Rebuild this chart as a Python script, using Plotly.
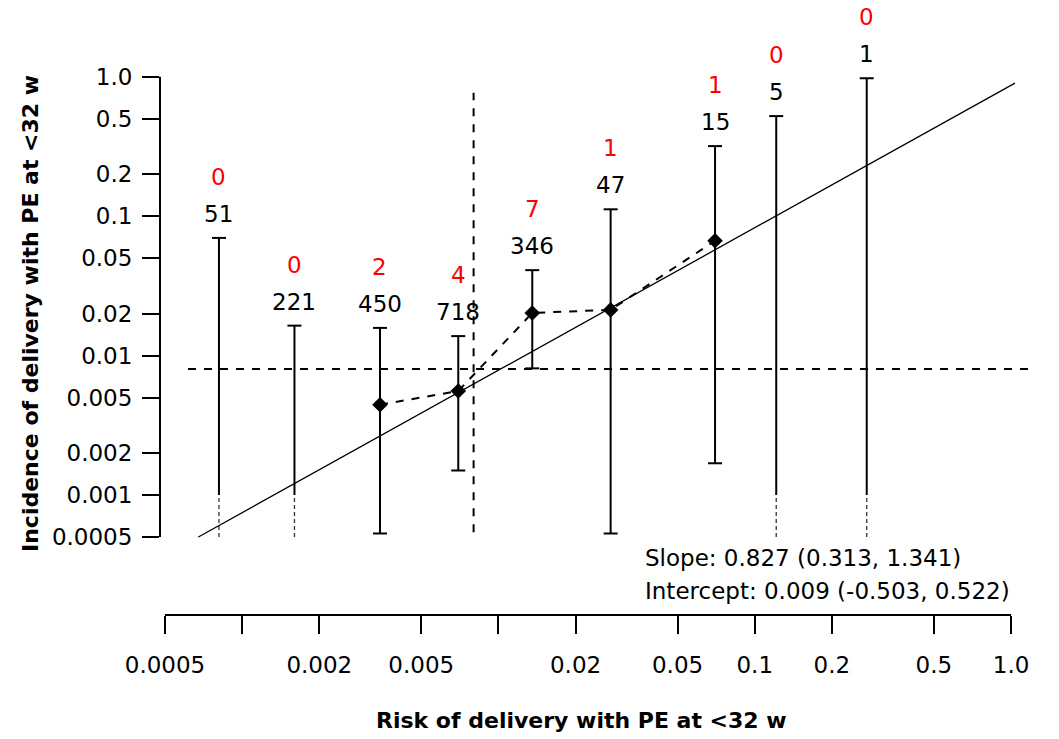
import math
import plotly.graph_objects as go

# ---------------- data ----------------
n_women = [51, 221, 450, 718, 346, 47, 15, 5, 1]
n_events = [0, 0, 2, 4, 7, 1, 1, 0, 0]
pred_risk = [0.000812, 0.0016, 0.00345, 0.00697, 0.01355, 0.0274, 0.0700, 0.1213, 0.2735]
ci_upper = [0.0698, 0.0164, 0.0158, 0.0138, 0.0410, 0.112, 0.318, 0.522, 0.975]
ci_lower = [0, 0, 0.00053, 0.0015, 0.0081, 0.00053, 0.00169, 0, 0]

overall_incidence = 0.008
ref_line_x = [0.000675, 1.036]
ref_line_y = [0.0005, 0.90]
hline_x = [0.000615, 1.19]
vline_y = [0.000542, 0.768]

tick_vals = [0.0005, 0.001, 0.002, 0.005, 0.01, 0.02, 0.05, 0.1, 0.2, 0.5, 1.0]
y_tick_text = ["0.0005", "0.001", "0.002", "0.005", "0.01", "0.02", "0.05", "0.1", "0.2", "0.5", "1.0"]
x_tick_text = ["0.0005", "", "0.002", "0.005", "", "0.02", "0.05", "0.1", "0.2", "0.5", "1.0"]

zero_floor = 0.001     # CIs with a lower limit of 0 are drawn solid down to here, dashed below
axis_min = tick_vals[0]
axis_max = tick_vals[-1]

slope_text = "Slope: 0.827 (0.313, 1.341)"
intercept_text = "Intercept: 0.009 (-0.503, 0.522)"
x_title = "Risk of delivery with PE at <32 w"
y_title = "Incidence of delivery with PE at <32 w"

FONT = "DejaVu Sans"
FS = 23

# ---------------- figure ----------------
fig = go.Figure()

# solid CI bars
sx, sy, dx, dy = [], [], [], []
for x, lo, hi in zip(pred_risk, ci_lower, ci_upper):
    if lo > 0:
        sx += [x, x, None]; sy += [lo, hi, None]
    else:
        sx += [x, x, None]; sy += [zero_floor, hi, None]
        dx += [x, x, None]; dy += [axis_min, zero_floor, None]

fig.add_trace(go.Scatter(x=sx, y=sy, mode="lines",
                         line=dict(color="black", width=2), hoverinfo="skip"))
fig.add_trace(go.Scatter(x=dx, y=dy, mode="lines",
                         line=dict(color="#333333", width=1.3, dash="4px,3px"), hoverinfo="skip"))

# caps
cx, cy = [], []
for x, lo, hi in zip(pred_risk, ci_lower, ci_upper):
    cx.append(x); cy.append(hi)
    if lo > 0:
        cx.append(x); cy.append(lo)
fig.add_trace(go.Scatter(x=cx, y=cy, mode="markers",
                         marker=dict(symbol="line-ew", size=10, line=dict(color="black", width=2)),
                         hoverinfo="skip"))

# reference (diagonal) line
fig.add_trace(go.Scatter(x=ref_line_x, y=ref_line_y, mode="lines",
                         line=dict(color="black", width=1.3), hoverinfo="skip"))

# overall incidence lines
fig.add_trace(go.Scatter(x=hline_x, y=[overall_incidence, overall_incidence], mode="lines",
                         line=dict(color="black", width=2, dash="8px,8px"), hoverinfo="skip"))
fig.add_trace(go.Scatter(x=[overall_incidence, overall_incidence], y=vline_y, mode="lines",
                         line=dict(color="black", width=2, dash="8px,8px"), hoverinfo="skip"))

# observed incidence (bins with events)
px_, py_ = [], []
for x, n, e in zip(pred_risk, n_women, n_events):
    if e > 0:
        px_.append(x); py_.append(e / n)
fig.add_trace(go.Scatter(x=px_, y=py_, mode="lines+markers",
                         line=dict(color="black", width=2, dash="8px,8px"),
                         marker=dict(symbol="diamond", size=12, color="black"),
                         hoverinfo="skip"))

# count / event labels
for x, hi, n, e in zip(pred_risk, ci_upper, n_women, n_events):
    fig.add_annotation(x=math.log10(x), y=math.log10(hi), xref="x", yref="y",
                       text=str(n), showarrow=False, yshift=24, yanchor="middle",
                       font=dict(family=FONT, size=FS, color="black"))
    fig.add_annotation(x=math.log10(x), y=math.log10(hi), xref="x", yref="y",
                       text=str(e), showarrow=False, yshift=61, yanchor="middle",
                       font=dict(family=FONT, size=FS, color="red"))

# axis lines (only over the tick span)
fig.add_shape(type="line", xref="paper", yref="y", x0=0, x1=0, y0=axis_min, y1=axis_max,
              line=dict(color="black", width=2))
fig.add_shape(type="line", xref="x", yref="paper", x0=axis_min, x1=axis_max, y0=0, y1=0,
              line=dict(color="black", width=2))

# slope/intercept text
fig.add_annotation(x=0.5458, y=0.0985, xref="paper", yref="paper", text=slope_text,
                   showarrow=False, xanchor="left", yanchor="middle",
                   font=dict(family=FONT, size=FS, color="black"))
fig.add_annotation(x=0.5458, y=0.0415, xref="paper", yref="paper", text=intercept_text,
                   showarrow=False, xanchor="left", yanchor="middle",
                   font=dict(family=FONT, size=FS, color="black"))

# axis titles
fig.add_annotation(x=0.4763, y=-0.1843, xref="paper", yref="paper", text="<b>" + x_title + "</b>",
                   showarrow=False, xanchor="center", yanchor="middle",
                   font=dict(family=FONT, size=22, color="black"))
fig.add_annotation(x=-0.1469, y=0.5252, xref="paper", yref="paper", text="<b>" + y_title + "</b>",
                   showarrow=False, xanchor="center", yanchor="middle", textangle=-90,
                   font=dict(family=FONT, size=22, color="black"))

fig.update_layout(
    width=1059, height=739,
    margin=dict(l=160, r=14, t=40, b=124),
    paper_bgcolor="white", plot_bgcolor="white",
    showlegend=False,
    font=dict(family=FONT, size=FS, color="black"),
    xaxis=dict(type="log", range=[-3.3205, 0.1325], anchor="free", position=0,
               showgrid=False, zeroline=False, showline=False,
               tickmode="array", tickvals=tick_vals, ticktext=x_tick_text,
               ticks="outside", ticklen=18, tickwidth=2, tickcolor="black",
               tickfont=dict(family=FONT, size=FS, color="black"), ticklabelstandoff=11),
    yaxis=dict(type="log", range=[-3.3584, 0.2633], domain=[0.1217, 1],
               showgrid=False, zeroline=False, showline=False,
               tickmode="array", tickvals=tick_vals, ticktext=y_tick_text,
               ticks="outside", ticklen=17, tickwidth=2, tickcolor="black",
               tickfont=dict(family=FONT, size=FS, color="black"), ticklabelstandoff=5),
)

fig.write_html("out.html", config={"displayModeBar": False},
               post_script="document.body.style.margin='0';document.body.style.overflow='hidden';")
